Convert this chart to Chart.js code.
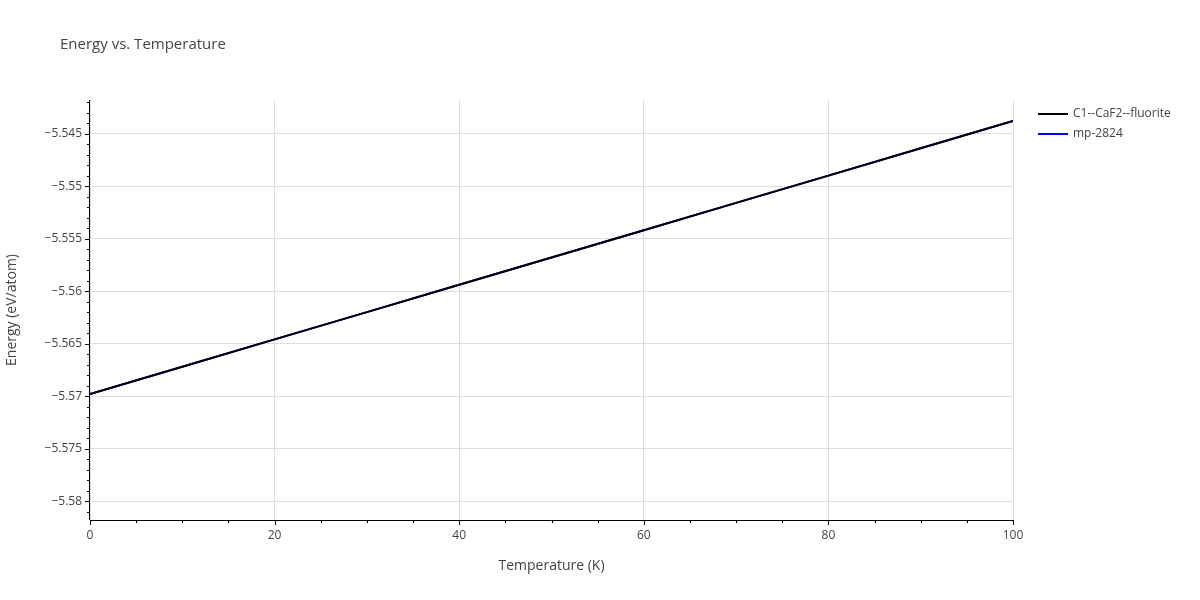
<!DOCTYPE html>
<html>
<head>
<meta charset="UTF-8">
<script src="https://cdn.jsdelivr.net/npm/chart.js"></script>
<style>
  html, body { margin: 0; padding: 0; background: white; }
  #c { display: block; }
</style>
</head>
<body>
<canvas id="c" width="1200" height="600"></canvas>
<script>
  // data
  const temps = [0, 10, 20, 30, 40, 50, 60, 70, 80, 90, 100];
  const energyFluorite = [-5.5698, -5.5672, -5.5646, -5.5620, -5.5594, -5.5568, -5.5542, -5.5516, -5.5490, -5.5464, -5.5438];
  const energyMp2824 = [-5.5698, -5.5672, -5.5646, -5.5620, -5.5594, -5.5568, -5.5542, -5.5516, -5.5490, -5.5464, -5.5438];
  const seriesNames = ['C1--CaF2--fluorite', 'mp-2824'];
  const seriesColors = ['#000000', '#0000ff'];

  const font = '"Open Sans", Arial, sans-serif';
  const textCol = '#444444';

  const extras = {
    id: 'extras',
    afterDraw(chart) {
      const ctx = chart.ctx, a = chart.chartArea;
      const xs = chart.scales.x, ys = chart.scales.y;
      ctx.save();
      // title
      ctx.fillStyle = textCol;
      ctx.font = '15px ' + font;
      ctx.textBaseline = 'middle';
      ctx.fillText('Energy vs. Temperature', 60, 45);
      // axis lines
      ctx.strokeStyle = '#000';
      ctx.lineWidth = 1;
      ctx.beginPath();
      ctx.moveTo(a.left - 0.5, a.top); ctx.lineTo(a.left - 0.5, a.bottom);
      ctx.moveTo(a.left, a.bottom + 0.5); ctx.lineTo(a.right, a.bottom + 0.5);
      // minor ticks
      for (let v = 0; v <= 100; v += 5) {
        const p = Math.round(xs.getPixelForValue(v)) + 0.5;
        const len = v % 20 === 0 ? 5 : 3;
        ctx.moveTo(p, a.bottom); ctx.lineTo(p, a.bottom + len);
      }
      for (let i = -5581; i <= -5542; i++) {
        const p = Math.round(ys.getPixelForValue(i / 1000)) + 0.5;
        if (p < a.top || p > a.bottom) continue;
        const len = i % 5 === 0 ? 5 : 3;
        ctx.moveTo(a.left, p); ctx.lineTo(a.left - len, p);
      }
      ctx.stroke();
      // legend
      ctx.font = '12px ' + font;
      seriesNames.forEach((n, i) => {
        const y = 114 + i * 20;
        ctx.strokeStyle = seriesColors[i];
        ctx.lineWidth = 2;
        ctx.beginPath(); ctx.moveTo(1038, y); ctx.lineTo(1068, y); ctx.stroke();
        ctx.fillStyle = textCol;
        ctx.fillText(n, 1073, y);
      });
      ctx.restore();
    }
  };

  new Chart(document.getElementById('c'), {
    type: 'line',
    data: {
      labels: temps,
      datasets: [
        { label: seriesNames[0], data: temps.map((t, i) => ({ x: t, y: energyFluorite[i] })), borderColor: seriesColors[0], borderWidth: 2, pointRadius: 0 },
        { label: seriesNames[1], data: temps.map((t, i) => ({ x: t, y: energyMp2824[i] })), borderColor: seriesColors[1], borderWidth: 2, pointRadius: 0 }
      ]
    },
    options: {
      responsive: false,
      animation: false,
      layout: { padding: { left: 0, top: 100, right: 187, bottom: 0 } },
      plugins: { legend: { display: false }, title: { display: false }, tooltip: { enabled: false } },
      scales: {
        x: {
          type: 'linear', min: 0, max: 100,
          ticks: { stepSize: 20, color: textCol, font: { family: font, size: 12 }, padding: 8 },
          grid: { color: '#dddddd', drawTicks: false },
          border: { display: false },
          title: { display: true, text: 'Temperature (K)', color: textCol, font: { family: font, size: 14 }, padding: { top: 4, bottom: 26 } },
          afterFit(s) { s.height = 80; }
        },
        y: {
          min: -5.5818, max: -5.5418,
          afterBuildTicks(s) {
            const t = [];
            for (let i = -5580; i <= -5545; i += 5) t.push({ value: i / 1000 });
            s.ticks = t;
          },
          ticks: {
            color: textCol, font: { family: font, size: 12 }, padding: 8,
            callback: v => '\u2212' + String(Math.abs(Math.round(v * 1000) / 1000))
          },
          grid: { color: '#dddddd', drawTicks: false },
          border: { display: false },
          title: { display: true, text: 'Energy (eV/atom)', color: textCol, font: { family: font, size: 14 } },
          afterFit(s) { s.width = 90; }
        }
      }
    },
    plugins: [extras]
  });
</script>
</body>
</html>
